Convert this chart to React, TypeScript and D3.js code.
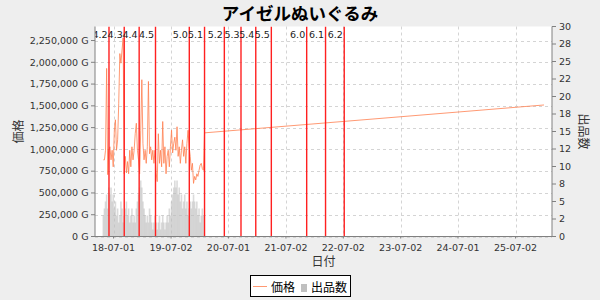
import React from "react";
import * as d3 from "d3";

// ---- data ----
// Weekly market price (G) starting from priceStart
const priceStart = "2018-04-27";
const priceValues = [
  880000, 880000, 990000, 1930000, 710000, 990000, 1030000, 880000, 990000, 800000,
  1220000, 1340000, 990000, 1110000, 1530000, 2100000, 1990000, 2140000, 2280000, 720000,
  920000, 730000, 860000, 720000, 990000, 800000, 1030000, 880000, 990000, 1180000,
  1300000, 990000, 880000, 720000, 1220000, 1800000, 1070000, 880000, 990000, 840000,
  1030000, 1780000, 950000, 1030000, 880000, 990000, 840000, 990000, 730000, 630000,
  1180000, 840000, 990000, 800000, 1320000, 840000, 1030000, 720000, 920000, 990000,
  800000, 1030000, 1220000, 960000, 1070000, 1140000, 990000, 1260000, 920000, 1030000,
  840000, 990000, 1110000, 920000, 1030000, 840000, 1070000, 1220000, 1030000, 920000,
  760000, 840000, 610000, 690000, 650000, 720000, 690000, 760000, 820000, 840000,
  780000, 760000,
];
// Weekly listing counts on the same dates
const listingCounts = [
  3, 4, 5, 6, 4, 7, 6, 7, 5, 6,
  4, 5, 3, 4, 2, 3, 5, 4, 2, 3,
  4, 5, 3, 4, 2, 3, 4, 2, 3, 2,
  4, 5, 6, 7, 8, 7, 5, 4, 3, 2,
  3, 2, 4, 3, 2, 1, 2, 3, 2, 1,
  2, 3, 1, 2, 3, 2, 1, 2, 3, 2,
  4, 3, 5, 6, 7, 8, 7, 8, 6, 7,
  5, 6, 4, 5, 6, 4, 5, 3, 4, 5,
  4, 5, 6, 5, 4, 5, 3, 4, 2, 3,
  4, 3,
];
// Later sparse price points
const laterDates = ["2020-01-31", "2025-12-30"];
const laterPrices = [1190000, 1510000];

// Patch version markers
const versionLabels = ["4.2", "4.3", "4.4", "4.5", "5.0", "5.1", "5.2", "5.3", "5.4", "5.5", "6.0", "6.1", "6.2"];
const versionDates = [
  "2018-06-02", "2018-09-07", "2018-12-11", "2019-03-25", "2019-10-26", "2020-01-31",
  "2020-06-05", "2020-09-19", "2020-12-22", "2021-03-31", "2021-11-11", "2022-03-11", "2022-07-08",
];

const xTickLabels = ["18-07-01", "19-07-02", "20-07-01", "21-07-02", "22-07-02", "23-07-02", "24-07-01", "25-07-02"];
const xDomain = ["2018-03-05", "2026-02-19"];
const priceTicks = [0, 250000, 500000, 750000, 1000000, 1250000, 1500000, 1750000, 2000000, 2250000];
const priceMax = 2411000;
const countTicks = [0, 2.5, 5, 7.5, 10, 12.5, 15, 17.5, 20, 22.5, 25, 27.5, 30];
const countTickLabels = ["0", "2", "5", "8", "10", "12", "15", "18", "20", "22", "25", "28", "30"];

const W = 600;
const H = 300;
const L = 95;
const R = 552;
const T = 26.5;
const B = 236.5;

const LATIN = "'DejaVu Sans', 'Noto Sans CJK JP', sans-serif";
const CJK = "'Noto Sans CJK JP', 'DejaVu Sans', sans-serif";
const PRICE_COLOR = "#ff7f50";

export default function App() {
  const parse = d3.timeParse("%Y-%m-%d")!;
  const parseTick = d3.timeParse("%y-%m-%d")!;
  const start = parse(priceStart) as Date;

  const x = d3.scaleTime()
    .domain([parse(xDomain[0]) as Date, parse(xDomain[1]) as Date])
    .range([L, R]);
  const y = d3.scaleLinear().domain([0, priceMax]).range([B, T]);
  const yc = d3.scaleLinear().domain([0, 30]).range([B, T]);

  const weekly = priceValues.map((v, i) => ({ date: d3.timeDay.offset(start, i * 7), value: v }));
  const later = laterDates.map((d, i) => ({ date: parse(d) as Date, value: laterPrices[i] }));
  const pricePoints = [...weekly, ...later];

  const line = d3.line<{ date: Date; value: number }>()
    .x((d) => x(d.date))
    .y((d) => y(d.value));

  const fmt = d3.format(",");
  const barW = 1.6;

  return (
    <svg
      width={W}
      height={H}
      style={{ position: "absolute", left: 0, top: 0, display: "block" }}
      fontFamily={LATIN}
    >
      <defs>
        <clipPath id="plot-clip">
          <rect x={L} y={T} width={R - L} height={B - T} />
        </clipPath>
      </defs>
      <rect x={0} y={0} width={W} height={H} fill="#eeeeee" />
      <rect x={L} y={T} width={R - L} height={B - T} fill="#ffffff" />

      {/* title */}
      <text x={W / 2} y={19.5} textAnchor="middle" fontFamily={CJK} fontWeight="bold" fontSize={17.5} fill="#000">
        アイゼルぬいぐるみ
      </text>

      {/* grid */}
      <g stroke="#d4d4d4" strokeWidth={1} strokeDasharray="3,3">
        {priceTicks.map((t) => (
          <line key={"h" + t} x1={L} x2={R} y1={Math.round(y(t)) + 0.5} y2={Math.round(y(t)) + 0.5} />
        ))}
        {xTickLabels.map((t) => {
          const px = Math.round(x(parseTick(t) as Date)) + 0.5;
          return <line key={"v" + t} x1={px} x2={px} y1={T} y2={B} />;
        })}
      </g>

      <g clipPath="url(#plot-clip)">
        {/* listing count bars */}
        <g fill="#bdbdbd" fillOpacity={0.55}>
          {listingCounts.map((c, i) => {
            const cx = x(d3.timeDay.offset(start, i * 7));
            return <rect key={i} x={cx - barW / 2} y={yc(c)} width={barW} height={B - yc(c)} />;
          })}
        </g>

        {/* price line */}
        <path d={line(pricePoints) ?? ""} fill="none" stroke={PRICE_COLOR} strokeOpacity={0.8} strokeWidth={1} />

        {/* version markers */}
        {versionDates.map((d, i) => {
          const px = x(parse(d) as Date);
          return (
            <g key={d}>
              <line x1={px} x2={px} y1={T} y2={B} stroke="#ff2020" strokeWidth={1.4} />
              <text x={px - 1.5} y={37.5} textAnchor="end" fontSize={9.5} fill="#222">
                {versionLabels[i]}
              </text>
            </g>
          );
        })}
      </g>

      {/* left axis */}
      <line x1={L} x2={L} y1={T} y2={B} stroke="#808080" />
      {priceTicks.map((t) => (
        <g key={"lt" + t}>
          <line x1={L - 4} x2={L} y1={y(t)} y2={y(t)} stroke="#808080" />
          <text x={88.5} y={y(t)} dy="0.35em" textAnchor="end" fontSize={9.5} fill="#333">
            {fmt(t) + " G"}
          </text>
        </g>
      ))}
      <text
        transform={`translate(18.5, ${(T + B) / 2}) rotate(-90)`}
        textAnchor="middle"
        dy="0.35em"
        fontFamily={CJK}
        fontSize={12}
        fill="#333"
      >
        価格
      </text>

      {/* right axis */}
      <line x1={R} x2={R} y1={T} y2={B} stroke="#808080" />
      {countTicks.map((t, i) => (
        <g key={"rt" + t}>
          <line x1={R} x2={R + 4} y1={yc(t)} y2={yc(t)} stroke="#808080" />
          <text x={559} y={yc(t)} dy="0.35em" textAnchor="start" fontSize={9.5} fill="#333">
            {countTickLabels[i]}
          </text>
        </g>
      ))}
      <text
        transform={`translate(583, ${(T + B) / 2}) rotate(90)`}
        textAnchor="middle"
        dy="0.35em"
        fontFamily={CJK}
        fontSize={12}
        fill="#333"
      >
        出品数
      </text>

      {/* bottom axis */}
      <line x1={L} x2={R} y1={B} y2={B} stroke="#808080" />
      {xTickLabels.map((t) => {
        const px = x(parseTick(t) as Date);
        return (
          <g key={"xt" + t}>
            <line x1={px} x2={px} y1={B} y2={B + 2} stroke="#808080" />
            <text x={px} y={250.5} textAnchor="middle" fontSize={9.5} fill="#333">
              {t}
            </text>
          </g>
        );
      })}
      <text x={(L + R) / 2} y={265.5} textAnchor="middle" fontFamily={CJK} fontSize={12} fill="#333">
        日付
      </text>

      {/* legend */}
      <rect x={250.5} y={275.5} width={100} height={21} fill="#ffffff" stroke="#000" strokeWidth={1} />
      <line x1={253} x2={267} y1={286.5} y2={286.5} stroke={PRICE_COLOR} strokeOpacity={0.8} strokeWidth={1} />
      <text x={271} y={291.5} fontFamily={CJK} fontSize={12} fill="#000">
        価格
      </text>
      <rect x={301} y={284} width={6} height={8} fill="#c0c0c0" />
      <text x={311} y={291.5} fontFamily={CJK} fontSize={12} fill="#000">
        出品数
      </text>
    </svg>
  );
}
